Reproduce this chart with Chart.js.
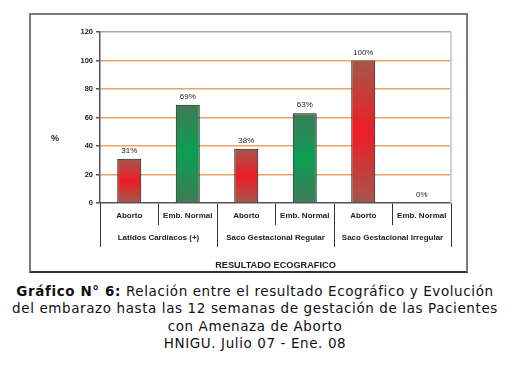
<!DOCTYPE html>
<html lang="es">
<head>
<meta charset="UTF-8">
<title>Gráfico N° 6 - Resultado Ecográfico</title>
<script src="https://cdn.jsdelivr.net/npm/chart.js"></script>
<style>
    body { margin: 0; background: #fff; width: 518px; height: 375px; position: relative; overflow: hidden; }
    .marco { position: absolute; left: 29px; top: 13px; width: 435px; height: 256px; border: 2px solid #7a7a7a; border-bottom-color: #333; }
    .pie { position: absolute; left: -4px; top: 283px; width: 518px; text-align: center;
           font-family: "DejaVu Sans", Verdana, sans-serif; font-size: 13.5px; letter-spacing: 0.6px;
           line-height: 17.3px; color: #111; }
</style>
</head>
<body>
<div class="marco"><canvas id="grafico"></canvas></div>
<div class="pie"><b>Gráfico N° 6:</b> Relación entre el resultado Ecográfico y Evolución<br>del embarazo hasta las 12 semanas de gestación de las Pacientes<br>con Amenaza de Aborto<br>HNIGU. Julio 07 - Ene. 08</div>

<script>
    // datos
    const categorias = ['Aborto', 'Emb. Normal', 'Aborto', 'Emb. Normal', 'Aborto', 'Emb. Normal'];
    const grupos = ['Latidos Cardiacos (+)', 'Saco Gestacional Regular', 'Saco Gestacional Irregular'];
    const porcentajes = [31, 69, 38, 63, 100, 0];
    const ticksY = [0, 20, 40, 60, 80, 100, 120];

    const fuente = "'Liberation Sans', Arial, sans-serif";
    const coloresAborto = ['#a3574b', '#ee1d25', '#a3574b'];
    const coloresNormal = ['#3e7b55', '#0b9e52', '#3e7b55'];

    // degradado vertical de cada barra (oscuro - vivo - oscuro)
    function degradado(context) {
        const chart = context.chart;
        const i = context.dataIndex;
        const c = i % 2 === 0 ? coloresAborto : coloresNormal;
        const y = chart.scales.y;
        if (!chart.chartArea || !y) return c[1];
        const arriba = y.getPixelForValue(porcentajes[i]);
        const abajo = y.getPixelForValue(0);
        if (abajo - arriba < 1) return c[1];
        const g = chart.ctx.createLinearGradient(0, arriba, 0, abajo);
        g.addColorStop(0, c[0]);
        g.addColorStop(0.5, c[1]);
        g.addColorStop(1, c[2]);
        return g;
    }

    // borde derecho del área de trazado
    const marcoArea = {
        id: 'marcoArea',
        beforeDatasetsDraw(chart) {
            const a = chart.chartArea;
            const ctx = chart.ctx;
            ctx.save();
            ctx.strokeStyle = '#d0d0d0';
            ctx.lineWidth = 2;
            ctx.beginPath();
            ctx.moveTo(a.right, a.top);
            ctx.lineTo(a.right, a.bottom);
            ctx.stroke();
            ctx.restore();
        }
    };

    // etiquetas de porcentaje sobre las barras
    const etiquetas = {
        id: 'etiquetas',
        afterDatasetsDraw(chart) {
            const ctx = chart.ctx;
            const meta = chart.getDatasetMeta(0);
            ctx.save();
            ctx.font = '8px ' + fuente;
            ctx.fillStyle = '#222';
            ctx.textAlign = 'center';
            ctx.textBaseline = 'bottom';
            meta.data.forEach((barra, i) => {
                ctx.fillText(porcentajes[i] + '%', barra.x, barra.y - 4);
            });
            ctx.restore();
        }
    };

    // símbolo "%" del eje vertical, sin rotar
    const simboloPct = {
        id: 'simboloPct',
        afterDraw(chart) {
            const a = chart.chartArea;
            const ctx = chart.ctx;
            ctx.save();
            ctx.font = 'bold 9px ' + fuente;
            ctx.fillStyle = '#222';
            ctx.textAlign = 'center';
            ctx.textBaseline = 'middle';
            ctx.fillText('%', a.left - 45, a.top + (a.bottom - a.top) * 0.62);
            ctx.restore();
        }
    };

    const ctx = document.getElementById('grafico').getContext('2d');
    new Chart(ctx, {
        type: 'bar',
        data: {
            labels: categorias,
            datasets: [{
                data: porcentajes,
                backgroundColor: degradado,
                borderColor: '#111',
                borderWidth: c => porcentajes[c.dataIndex] === 0 ? 0 : 1,
                barPercentage: 0.82,
                categoryPercentage: 0.5
            }]
        },
        options: {
            responsive: true,
            maintainAspectRatio: false,
            animation: false,
            layout: { padding: { top: 17, right: 15, left: 0, bottom: 0 } },
            plugins: {
                legend: { display: false },
                tooltip: { enabled: false }
            },
            scales: {
                y: {
                    min: 0,
                    max: 120,
                    afterBuildTicks: s => { s.ticks = ticksY.map(v => ({ value: v })); },
                    afterFit: s => { s.width = 69; },
                    border: { color: '#555', width: 1.5 },
                    grid: {
                        color: c => c.tick.value === 120 ? '#a8a8a8' : (c.tick.value === 0 ? 'rgba(0,0,0,0)' : '#f1a262'),
                        lineWidth: 1.5,
                        tickLength: 4,
                        tickColor: '#555'
                    },
                    ticks: {
                        padding: 3,
                        color: '#222',
                        font: { family: fuente, size: 7.5, weight: 'bold' }
                    }
                },
                // fila de categorías (Aborto / Emb. Normal)
                x: {
                    weight: 0,
                    offset: true,
                    afterFit: s => { s.height = 22; },
                    border: { color: '#555', width: 1.5 },
                    grid: {
                        drawOnChartArea: false,
                        offset: true,
                        tickLength: 22,
                        color: '#333',
                        tickColor: '#333'
                    },
                    ticks: {
                        padding: -14.5,
                        color: '#222',
                        maxRotation: 0,
                        autoSkip: false,
                        font: { family: fuente, size: 8, weight: 'bold' }
                    }
                },
                // fila de grupos
                x2: {
                    type: 'category',
                    position: 'bottom',
                    weight: 1,
                    labels: grupos,
                    offset: true,
                    afterFit: s => { s.height = 46; },
                    border: { display: false },
                    grid: {
                        drawOnChartArea: false,
                        offset: true,
                        tickLength: 22,
                        color: '#333',
                        tickColor: '#333'
                    },
                    ticks: {
                        padding: -14.5,
                        color: '#222',
                        maxRotation: 0,
                        autoSkip: false,
                        font: { family: fuente, size: 8, weight: 'bold' }
                    },
                    title: {
                        display: true,
                        text: 'RESULTADO ECOGRAFICO',
                        color: '#222',
                        padding: { top: 0, bottom: 0 },
                        font: { family: fuente, size: 9.2, weight: 'bold' }
                    }
                }
            }
        },
        plugins: [marcoArea, etiquetas, simboloPct]
    });
</script>
</body>
</html>
